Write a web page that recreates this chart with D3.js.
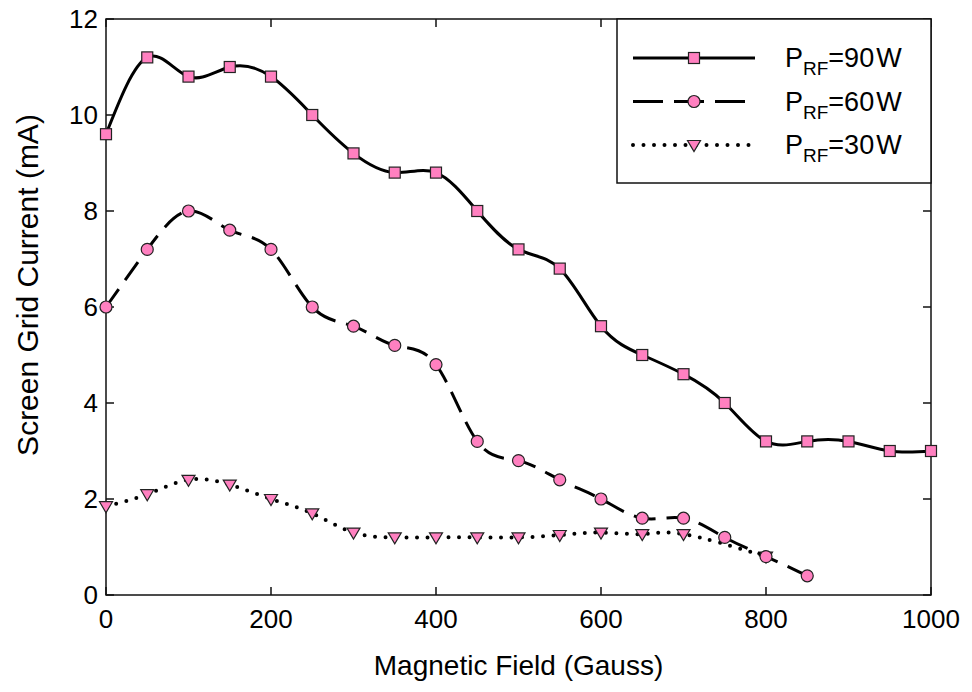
<!DOCTYPE html>
<html>
<head>
<meta charset="utf-8">
<script src="https://cdn.jsdelivr.net/npm/d3@7"></script>
<style>
  body { margin: 0; background: #fff; }
  text { font-family: "Liberation Sans", Arial, sans-serif; fill: #000; }
</style>
</head>
<body>
<div id="chart"></div>
<script>
// Data
const field90 = [0, 50, 100, 150, 200, 250, 300, 350, 400, 450, 500, 550, 600, 650, 700, 750, 800, 850, 900, 950, 1000];
const current90 = [9.6, 11.2, 10.8, 11.0, 10.8, 10.0, 9.2, 8.8, 8.8, 8.0, 7.2, 6.8, 5.6, 5.0, 4.6, 4.0, 3.2, 3.2, 3.2, 3.0, 3.0];

const field60 = [0, 50, 100, 150, 200, 250, 300, 350, 400, 450, 500, 550, 600, 650, 700, 750, 800, 850];
const current60 = [6.0, 7.2, 8.0, 7.6, 7.2, 6.0, 5.6, 5.2, 4.8, 3.2, 2.8, 2.4, 2.0, 1.6, 1.6, 1.2, 0.8, 0.4];

const field30 = [0, 50, 100, 150, 200, 250, 300, 350, 400, 450, 500, 550, 600, 650, 700, 800];
const current30 = [1.85, 2.1, 2.4, 2.3, 2.0, 1.7, 1.3, 1.2, 1.2, 1.2, 1.2, 1.25, 1.3, 1.27, 1.27, 0.8];

const xTicks = [0, 200, 400, 600, 800, 1000];
const yTicks = [0, 2, 4, 6, 8, 10, 12];

const series = [
    { label: "=90", x: field90, y: current90, dash: null, width: 3, marker: "square" },
    { label: "=60", x: field60, y: current60, dash: "22,11", width: 3, marker: "circle" },
    { label: "=30", x: field30, y: current30, dash: "0,10.5", width: 4, marker: "triangle" }
];

const width = 972, height = 692;
const margin = { top: 19, right: 41, bottom: 97, left: 106 };
const pink = "#ff80c0";

const svg = d3.select("#chart").append("svg")
    .attr("width", width)
    .attr("height", height);

const x = d3.scaleLinear().domain([0, 1000]).range([margin.left, width - margin.right]);
const y = d3.scaleLinear().domain([0, 12]).range([height - margin.bottom, margin.top]);

// Frame + inward ticks
const frame = svg.append("g").attr("stroke", "#111").attr("stroke-width", 1.5);
frame.append("rect")
    .attr("x", x(0)).attr("y", y(12))
    .attr("width", x(1000) - x(0)).attr("height", y(0) - y(12))
    .attr("fill", "none");

frame.selectAll(".xt").data(xTicks).enter().append("line")
    .attr("x1", d => x(d)).attr("x2", d => x(d))
    .attr("y1", y(0)).attr("y2", y(0) - 8);
frame.selectAll(".xtt").data(xTicks).enter().append("line")
    .attr("x1", d => x(d)).attr("x2", d => x(d))
    .attr("y1", y(12)).attr("y2", y(12) + 8);
frame.selectAll(".yt").data(yTicks).enter().append("line")
    .attr("x1", x(0)).attr("x2", x(0) + 8)
    .attr("y1", d => y(d)).attr("y2", d => y(d));
frame.selectAll(".ytr").data(yTicks).enter().append("line")
    .attr("x1", x(1000)).attr("x2", x(1000) - 8)
    .attr("y1", d => y(d)).attr("y2", d => y(d));

// Tick labels
svg.selectAll(".xl").data(xTicks).enter().append("text")
    .attr("x", d => x(d)).attr("y", y(0) + 33)
    .attr("text-anchor", "middle")
    .style("font-size", "26px")
    .text(d => d);

svg.selectAll(".yl").data(yTicks).enter().append("text")
    .attr("x", x(0) - 8).attr("y", d => y(d) + 9)
    .attr("text-anchor", "end")
    .style("font-size", "26px")
    .text(d => d);

// Axis titles
svg.append("text")
    .attr("x", (x(0) + x(1000)) / 2).attr("y", 675)
    .attr("text-anchor", "middle")
    .style("font-size", "28px")
    .text("Magnetic Field (Gauss)");

svg.append("text")
    .attr("transform", `translate(38, 285) rotate(-90)`)
    .attr("text-anchor", "middle")
    .style("font-size", "30px")
    .text("Screen Grid Current (mA)");

// Markers
function drawMarker(g, type, cx, cy) {
    if (type === "square") {
        g.append("rect")
            .attr("x", cx - 5.5).attr("y", cy - 5.5)
            .attr("width", 11).attr("height", 11)
            .attr("fill", pink).attr("stroke", "#222").attr("stroke-width", 1.2);
    } else if (type === "circle") {
        g.append("circle")
            .attr("cx", cx).attr("cy", cy).attr("r", 6)
            .attr("fill", pink).attr("stroke", "#222").attr("stroke-width", 1.2);
    } else {
        g.append("path")
            .attr("d", `M${cx - 6.5},${cy - 4.5}L${cx + 6.5},${cy - 4.5}L${cx},${cy + 6.5}Z`)
            .attr("fill", pink).attr("stroke", "#222").attr("stroke-width", 1.2);
    }
}

const line = d3.line()
    .x(d => x(d[0]))
    .y(d => y(d[1]))
    .curve(d3.curveNatural);

series.slice().reverse().forEach(s => {
    const pts = s.x.map((v, i) => [v, s.y[i]]);
    const g = svg.append("g");
    g.append("path")
        .attr("d", line(pts))
        .attr("fill", "none")
        .attr("stroke", "#000")
        .attr("stroke-width", s.width)
        .attr("stroke-linecap", s.marker === "triangle" ? "round" : "butt")
        .attr("stroke-dasharray", s.dash);
    pts.forEach(p => drawMarker(g, s.marker, x(p[0]), y(p[1])));
});

// Legend
const legend = svg.append("g");
legend.append("rect")
    .attr("x", 617).attr("y", y(12))
    .attr("width", x(1000) - 617).attr("height", 183 - y(12))
    .attr("fill", "#fff").attr("stroke", "#111").attr("stroke-width", 1.5);

series.forEach((s, i) => {
    const ly = 58 + i * 43.5;
    const g = legend.append("g");
    g.append("line")
        .attr("x1", 633).attr("x2", 755)
        .attr("y1", ly).attr("y2", ly)
        .attr("stroke", "#000")
        .attr("stroke-width", s.width)
        .attr("stroke-linecap", s.marker === "triangle" ? "round" : "butt")
        .attr("stroke-dasharray", s.marker === "circle" ? "30,11" : s.dash);
    drawMarker(g, s.marker, 694, ly);
    const t = g.append("text")
        .attr("x", 785).attr("y", ly + 9)
        .style("font-size", "27px");
    t.append("tspan").text("P");
    t.append("tspan").attr("dy", 8).style("font-size", "19px").text("RF");
    t.append("tspan").attr("dy", -8).text(s.label);
    t.append("tspan").attr("dx", 2).text("W");
});
</script>
</body>
</html>
